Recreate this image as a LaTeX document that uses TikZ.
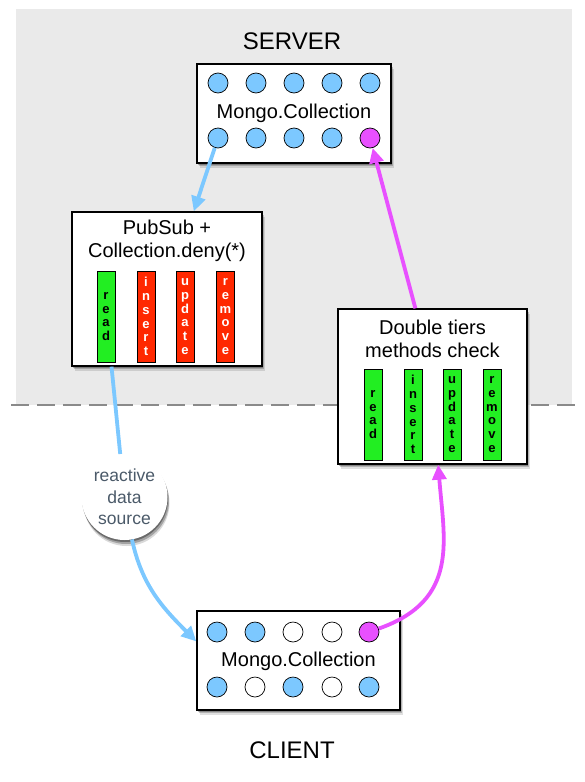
\documentclass[tikz,border=0pt]{standalone}
\usepackage{fontspec}
\setmainfont{Liberation Sans}
\usetikzlibrary{arrows.meta,shadows,calc}
\definecolor{bgray}{RGB}{234,234,234}
\definecolor{dgray}{RGB}{138,138,138}
\definecolor{sblue}{RGB}{124,200,255}
\definecolor{smag}{RGB}{232,80,255}
\definecolor{sgreen}{RGB}{34,238,34}
\definecolor{sred}{RGB}{255,40,0}
\definecolor{slate}{RGB}{75,90,105}
\begin{document}
\begin{tikzpicture}[x=1pt,y=1pt,
  softshadow/.style={general shadow={shadow xshift=.5pt,shadow yshift=-1.5pt,fill=black,opacity=.25},
                     general shadow={shadow xshift=1.5pt,shadow yshift=-3pt,fill=black,opacity=.2},
                     general shadow={shadow xshift=2.5pt,shadow yshift=-4.5pt,fill=black,opacity=.12}},
  bubshadow/.style={general shadow={shadow xshift=.5pt,shadow yshift=-2pt,fill=black,opacity=.35},
                    general shadow={shadow xshift=1.5pt,shadow yshift=-4pt,fill=black,opacity=.25},
                    general shadow={shadow xshift=2pt,shadow yshift=-6pt,fill=black,opacity=.15}},
  box/.style={draw=black,line width=1.3pt,fill=white,rectangle,inner sep=0pt,softshadow},
  dot/.style={circle,draw=black,line width=.7pt,minimum size=20pt,inner sep=0pt},
  bluedot/.style={dot,fill=sblue},
  magdot/.style={dot,fill=smag},
  whitedot/.style={dot,fill=white},
  bar/.style={rectangle,draw=black,line width=.8pt,minimum width=18pt,minimum height=91pt,inner sep=0pt,align=center,font=\fontsize{13}{13.7}\selectfont\bfseries},
  gbar/.style={bar,fill=sgreen,text=black},
  rbar/.style={bar,fill=sred,text=white},
  boxtext/.style={font=\fontsize{20}{23}\selectfont,align=center,inner sep=0pt},
  bluearrow/.style={draw=sblue,line width=3.8pt,-{Triangle[length=15pt,width=14pt]}},
  magarrow/.style={draw=smag,line width=3.8pt,-{Triangle[length=15pt,width=14pt]}},
  bigtext/.style={font=\fontsize{24}{28}\selectfont}
]
\useasboundingbox (0,0) rectangle (584,-782);
\fill[bgray] (16,-9) rectangle (572,-405);
\draw[dgray,line width=2pt,dash pattern=on 18pt off 8pt] (11,-405) -- (575,-405);

\node[bigtext] (server) at (292,-41) {SERVER};
\node[bigtext] (client) at (292,-750) {CLIENT};

% top collection
\node[box,minimum width=194pt,minimum height=99pt] (top) at (294,-113.5) {};
\node[boxtext] (toplbl) at (294,-113) {Mongo.Collection};
\foreach \x [count=\i] in {218,256,294,332,370} {\node[bluedot] (ta\i) at (\x,-83) {};}
\foreach \x [count=\i] in {218,256,294,332} {\node[bluedot] (tb\i) at (\x,-138) {};}
\node[magdot] (tb5) at (370,-138) {};

% pubsub
\node[box,minimum width=190pt,minimum height=154pt] (ps) at (167,-289) {};
\node[boxtext] (pstitle) at (167,-240.5) {PubSub +\\Collection.deny(*)};
\node[gbar] (psread) at (106,-316.5) {r\\e\\a\\d};
\node[rbar] (psins) at (146,-316.5) {i\\n\\s\\e\\r\\t};
\node[rbar] (psupd) at (185,-316.5) {u\\p\\d\\a\\t\\e};
\node[rbar] (psrem) at (225.5,-316.5) {r\\e\\m\\o\\v\\e};

% double tiers
\node[box,minimum width=189pt,minimum height=155pt] (dt) at (432.5,-386.5) {};
\node[boxtext] (dttitle) at (432.5,-338.5) {Double tiers\\methods check};
\node[gbar] (dtread) at (373,-414.5) {r\\e\\a\\d};
\node[gbar] (dtins) at (413,-414.5) {i\\n\\s\\e\\r\\t};
\node[gbar] (dtupd) at (452,-414.5) {u\\p\\d\\a\\t\\e};
\node[gbar] (dtrem) at (492,-414.5) {r\\e\\m\\o\\v\\e};

% bottom collection
\node[box,minimum width=203pt,minimum height=99pt] (bot) at (298.5,-660.5) {};
\node[boxtext] (botlbl) at (298.5,-661) {Mongo.Collection};
\node[bluedot] (ba1) at (217,-632) {};
\node[bluedot] (ba2) at (255,-632) {};
\node[whitedot] (ba3) at (293,-632) {};
\node[whitedot] (ba4) at (332,-632) {};
\node[magdot] (ba5) at (369,-632) {};
\node[bluedot] (bb1) at (217,-687) {};
\node[whitedot] (bb2) at (255,-687) {};
\node[bluedot] (bb3) at (293,-687) {};
\node[whitedot] (bb4) at (332,-687) {};
\node[bluedot] (bb5) at (369,-687) {};

% bubble
\node[circle,fill=white,minimum size=86pt,inner sep=0pt,align=center,text=slate,
      font=\fontsize{17.5}{21.5}\selectfont,bubshadow] (rds) at (124.5,-497) {reactive\\data\\source};

% connectors
\coordinate (psin) at ($(ps.north west)!0.64!(ps.north east)$);
\coordinate (psout) at ($(ps.south west)!0.21!(ps.south east)$);
\coordinate (botin) at ($(bot.north west)!0.31!(bot.south west)$);
\coordinate (dtout) at ($(dt.north west)!0.41!(dt.north east)$);
\coordinate (dtin) at ($(dt.south west)!0.53!(dt.south east)$);
\coordinate (mc1) at (460,-600);
\coordinate (mc2) at (444,-540);

\draw[bluearrow] (tb1) -- (psin);
\draw[draw=sblue,line width=3.8pt] (psout) -- (rds);
\draw[bluearrow] (rds.-80) to[out=-78,in=135] (botin);
\draw[magarrow] (dtout) -- (tb5);
\draw[magarrow] (ba5) .. controls (mc1) and (mc2) .. (dtin);
\end{tikzpicture}
\end{document}
